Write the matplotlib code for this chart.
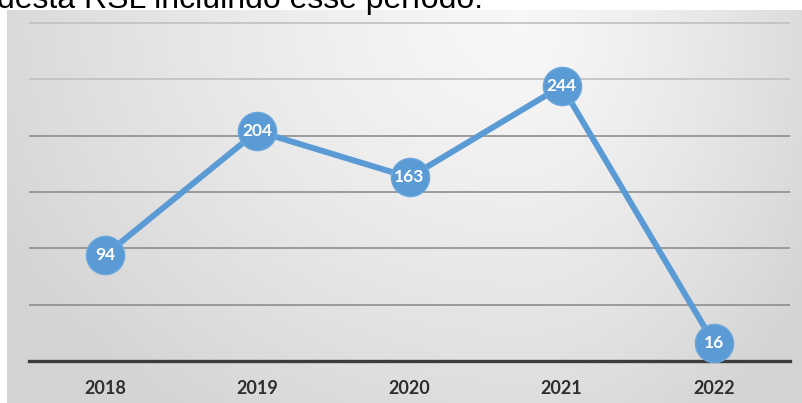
import numpy as np
import matplotlib
matplotlib.use("Agg")
import matplotlib.pyplot as plt

anos = ["2018", "2019", "2020", "2021", "2022"]
publicacoes = [94, 204, 163, 244, 16]
grade_y = [50, 100, 150, 200, 250, 300]

W, H = 802, 403
AZUL = "#5b9bd5"

fig = plt.figure(figsize=(W / 100, H / 100), dpi=100)


def fx(px):
    return px / W


def fy(py):
    return 1 - py / H


# fundo cinza com degradê (mais claro no topo, perto do centro-direita)
bg = fig.add_axes([0, 0, 1, 1], zorder=0)
bg.set_xlim(0, W)
bg.set_ylim(H, 0)
bg.axis("off")
xx, yy = np.meshgrid(np.arange(7, W), np.arange(10, H))
cx, cy = 520, 20
dx = np.where(xx < cx, (xx - cx) / 510.0, (xx - cx) / 300.0)
dy = (yy - cy) / 420.0
r = np.clip(np.sqrt(dx ** 2 + dy ** 2), 0, 1.15)
lum = 0.97 - 0.115 * r ** 1.3
img = np.dstack([lum, lum, lum])
bg.imshow(img, extent=(7, W, H, 10), aspect="auto", interpolation="bilinear")

# frase cortada acima do gráfico
fig.text(fx(-3), fy(8), "desta RSL incluindo esse período.", fontsize=23,
         family="Liberation Sans", color="black", va="baseline", ha="left")

# área do gráfico
ymax = 303
alt = 338 * ymax / 300
ax = fig.add_axes([fx(29), fy(361), fx(790) - fx(29), alt / H], zorder=1)
ax.patch.set_alpha(0)

x = np.arange(len(anos))
ax.set_xlim(-0.5, len(anos) - 0.5)
ax.set_ylim(0, ymax)

for v in grade_y:
    ax.axhline(v, color="#8e8e8e" if v < 250 else "#c0c0c0", lw=1.2, zorder=1)

for s in ["top", "left", "right"]:
    ax.spines[s].set_visible(False)
ax.spines["bottom"].set_color("#3c3c3c")
ax.spines["bottom"].set_linewidth(2.4)
ax.spines["bottom"].set_zorder(2)

ax.plot(x, publicacoes, color=AZUL, lw=4.3, marker="o", markersize=27.5,
        markerfacecolor=AZUL, markeredgecolor="#6aa6dc", markeredgewidth=1,
        zorder=3, clip_on=False, solid_capstyle="round")

for xi, v in zip(x, publicacoes):
    ax.text(xi, v, str(v), ha="center", va="center", color="white",
            fontsize=12.5, fontweight="bold", family="Lato", zorder=4)

ax.set_yticks([])
ax.set_xticks(x)
ax.set_xticklabels(anos, fontsize=13, fontweight="bold", family="Lato",
                   color="#2e2e2e")
ax.tick_params(axis="x", length=0, pad=14)

fig.savefig("out.png", dpi=100)
